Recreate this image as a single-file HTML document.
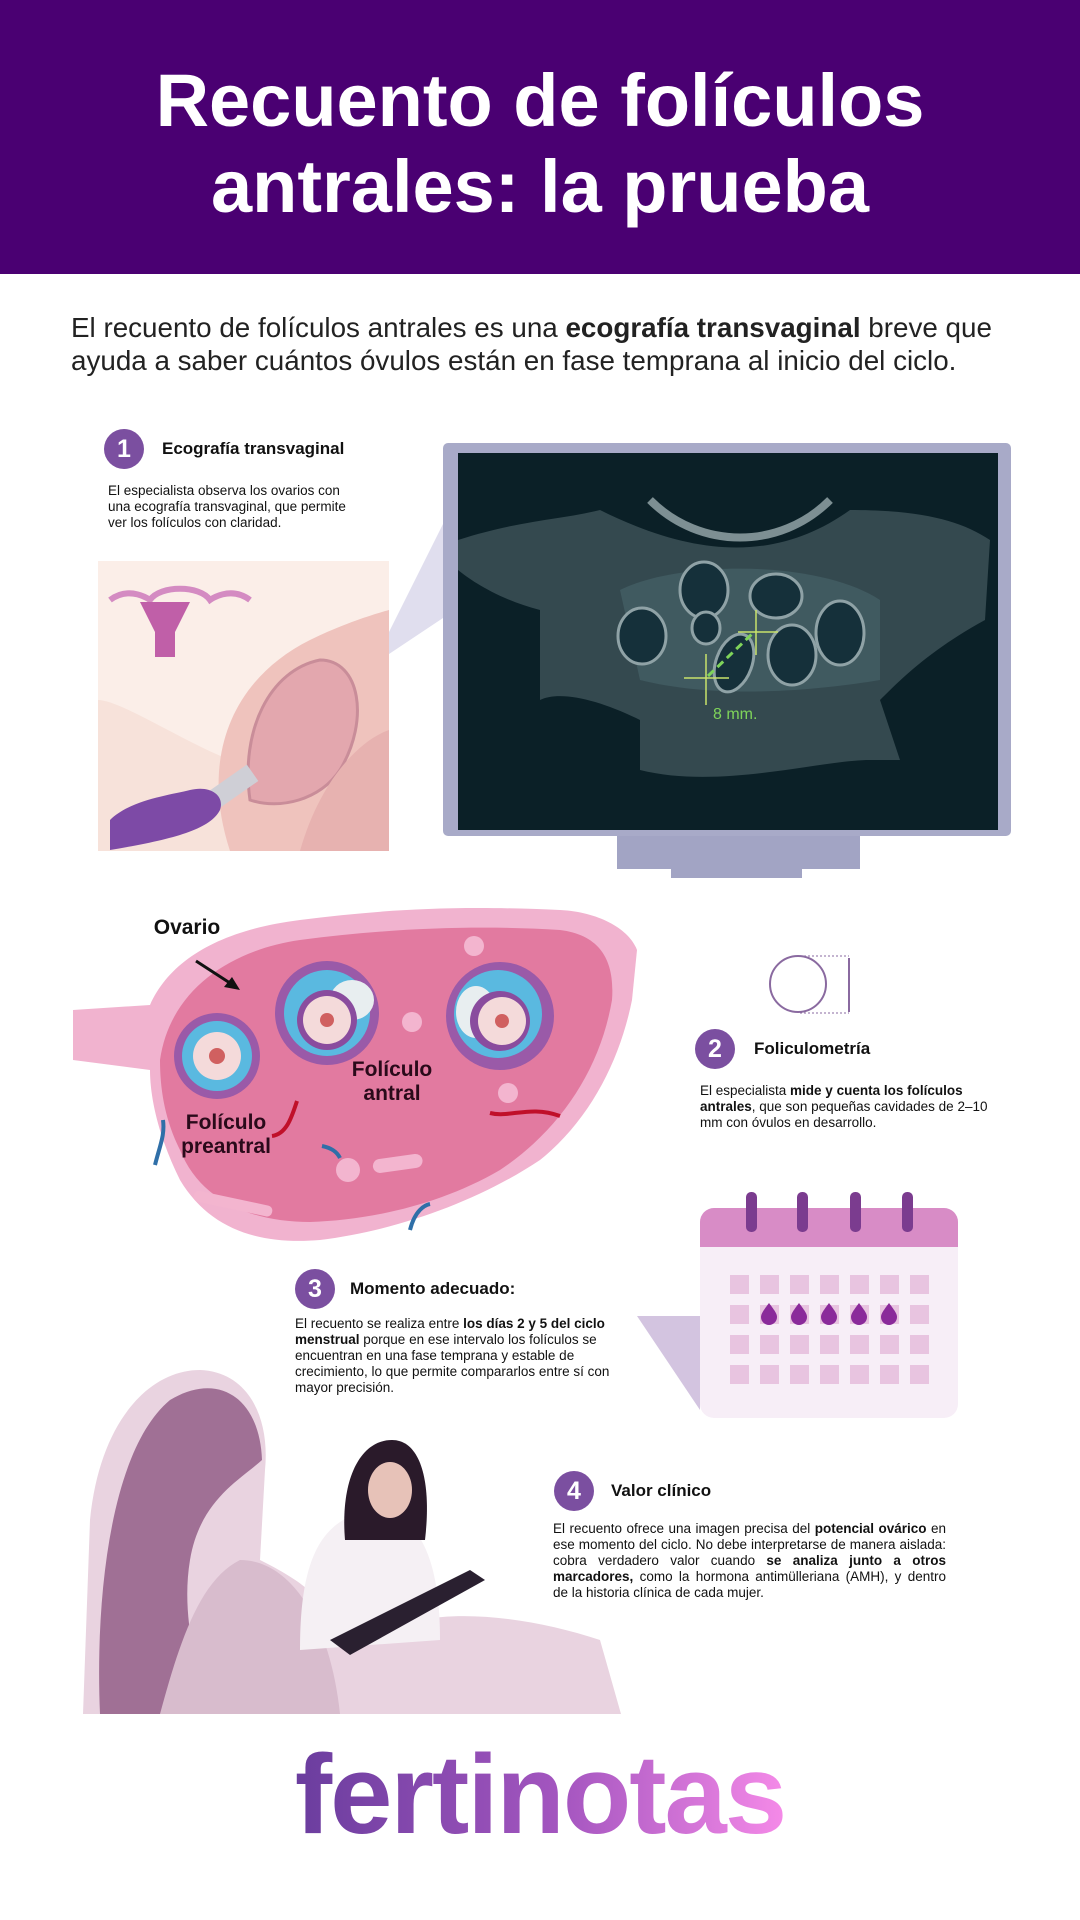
<!DOCTYPE html>
<html><head><meta charset="utf-8"><style>
*{margin:0;padding:0;box-sizing:border-box}
body{width:1080px;height:1920px;position:relative;background:#fff;font-family:"Liberation Sans",sans-serif;color:#111;overflow:hidden}
.abs{position:absolute}
.num{position:absolute;width:40px;height:40px;border-radius:50%;background:#7b4fa0;color:#fff;font-size:25px;font-weight:bold;text-align:center;line-height:40px}
.ttl{position:absolute;font-size:17px;font-weight:bold}
.p{position:absolute;font-size:13.5px;line-height:16px}
</style></head><body>
<div class="abs" style="left:0;top:0;width:1080px;height:274px;background:#4a0072"></div>
<div class="abs" style="left:0;top:58px;width:1080px;text-align:center;color:#fff;font-weight:bold;font-size:74px;line-height:86px">Recuento de folículos<br>antrales: la prueba</div>
<div class="abs" style="left:71px;top:311px;font-size:27.8px;line-height:33px;color:#222;white-space:nowrap">El recuento de folículos antrales es una <b>ecografía transvaginal</b> breve que<br>ayuda a saber cuántos óvulos están en fase temprana al inicio del ciclo.</div>

<svg class="abs" style="left:0;top:0" width="1080" height="1920">
<defs><linearGradient id="lg" x1="0" x2="1"><stop offset="0" stop-color="#6a3d9e"/><stop offset="0.55" stop-color="#a556c0"/><stop offset="1" stop-color="#f58ae8"/></linearGradient></defs>
<polygon points="230,760 380,650 470,470 470,600" fill="#d8d6ea" opacity="0.8"/>
<rect x="98" y="561" width="291" height="290" fill="#f7e2da"/>
<path d="M98,561 H389 V640 C330,650 260,720 230,760 C180,740 120,700 98,700Z" fill="#fbeee8"/>
<path d="M230,851 C200,760 230,680 310,640 C350,620 389,610 389,610 V851Z" fill="#efc3bd"/>
<path d="M250,800 C240,730 270,670 320,660 C360,660 370,720 340,770 C320,800 280,810 250,800Z" fill="#e3a7ae" stroke="#c98d99" stroke-width="3"/>
<path d="M300,851 C320,780 360,740 389,730 V851Z" fill="#e7b2b0"/>
<path d="M110,600 c20,-15 40,0 40,0 c10,-15 50,-15 60,0 c0,0 20,-15 40,0" stroke="#d48bc2" stroke-width="6" fill="none"/>
<path d="M140,602 h50 l-15,30 v25 h-20 v-25z" fill="#c05fa8"/>
<rect x="218" y="760" width="20" height="60" fill="#cfcfd6" transform="rotate(55 228 790)"/>
<path d="M110,820 c20,-20 60,-25 80,-30 c20,-5 35,5 30,20 c-10,20 -50,30 -110,40z" fill="#7d4aa6"/>
<rect x="443" y="443" width="568" height="393" rx="5" fill="#a8aac8"/>
<rect x="617" y="836" width="243" height="33" fill="#a2a4c4"/>
<rect x="671" y="869" width="131" height="9" fill="#a2a4c4"/>
<rect x="458" y="453" width="540" height="377" fill="#0b2027"/>
<path d="M458,540 C520,520 560,520 600,510 C700,560 780,560 850,510 C920,510 960,520 990,540 L985,620 C930,650 900,680 880,700 L900,760 L870,760 C820,760 720,790 640,770 L640,720 C600,700 560,690 540,700 L540,610 C500,600 470,580 458,570Z" fill="#34494f"/>
<path d="M620,590 C680,560 820,560 880,600 L880,680 C820,690 720,700 640,680Z" fill="#405a60"/>
<path d="M650,500 C700,550 780,550 830,500" stroke="#7d8f93" stroke-width="8" fill="none"/>
<g fill="#15303a" stroke="#8fa2a6" stroke-width="3">
<ellipse cx="704" cy="590" rx="24" ry="28"/><ellipse cx="776" cy="596" rx="26" ry="22"/><ellipse cx="642" cy="636" rx="24" ry="28"/><ellipse cx="706" cy="628" rx="14" ry="16"/><ellipse cx="840" cy="633" rx="24" ry="32"/><ellipse cx="792" cy="655" rx="24" ry="30"/><ellipse cx="734" cy="663" rx="18" ry="30" transform="rotate(20 734 663)"/></g>
<g stroke="#c8e26a" stroke-width="1.5"><line x1="684" y1="678" x2="729" y2="678"/><line x1="706" y1="654" x2="706" y2="705"/><line x1="738" y1="632" x2="778" y2="632"/><line x1="756" y1="610" x2="756" y2="655"/></g>
<line x1="708" y1="676" x2="752" y2="634" stroke="#7fd45a" stroke-width="3" stroke-dasharray="8 5"/>
<text x="713" y="719" font-size="16" fill="#7fd45a" font-family="Liberation Sans">8 mm.</text>
<path d="M73,1010 L150,1005 C170,960 220,930 300,920 C380,910 450,905 560,910 C600,912 630,930 637,950 L632,1000 C620,1060 590,1120 540,1160 C480,1200 400,1230 320,1240 C260,1245 210,1230 180,1180 C160,1140 150,1100 150,1070 L73,1060Z" fill="#f1b3cf"/>
<path d="M160,1060 C170,990 230,950 300,940 C390,928 480,925 560,930 C600,935 615,960 612,1000 C600,1070 560,1130 500,1170 C440,1205 370,1220 310,1222 C250,1222 200,1200 180,1150 C165,1120 160,1090 160,1060Z" fill="#e27aa0"/>
<g fill="#f3b5cf"><circle cx="474" cy="946" r="10"/><circle cx="412" cy="1022" r="10"/><circle cx="348" cy="1170" r="12"/><rect x="372" y="1160" width="50" height="14" rx="7" transform="rotate(-8 372 1160)"/><rect x="195" y="1190" width="80" height="11" rx="5" transform="rotate(12 195 1190)"/><circle cx="508" cy="1093" r="10"/></g>
<g fill="none" stroke-width="4"><path d="M155,1165 c5,-20 10,-30 8,-45" stroke="#2f6fa8"/><path d="M322,1146 c10,2 15,6 18,12" stroke="#2f6fa8"/><path d="M410,1230 c5,-20 15,-25 20,-26" stroke="#2f6fa8"/><path d="M272,1136 c15,-2 20,-20 25,-35" stroke="#c0102a"/><path d="M490,1113 c20,5 40,-8 70,3" stroke="#c0102a"/></g>
<g><circle cx="217" cy="1056" r="43" fill="#9a5aa8"/><circle cx="217" cy="1056" r="35" fill="#5ab9e0"/><circle cx="217" cy="1056" r="24" fill="#f4dada"/><circle cx="217" cy="1056" r="8" fill="#d06060"/>
<circle cx="327" cy="1013" r="52" fill="#9a5aa8"/><circle cx="327" cy="1013" r="43" fill="#5ab9e0"/><ellipse cx="352" cy="1000" rx="22" ry="20" fill="#e8eef0"/><circle cx="327" cy="1020" r="30" fill="#8a4c9e"/><circle cx="327" cy="1020" r="24" fill="#f4dada"/><circle cx="327" cy="1020" r="7" fill="#d06060"/>
<circle cx="500" cy="1016" r="54" fill="#9a5aa8"/><circle cx="498" cy="1014" r="44" fill="#5ab9e0"/><ellipse cx="476" cy="1012" rx="20" ry="26" fill="#e8eef0"/><circle cx="500" cy="1021" r="30" fill="#8a4c9e"/><circle cx="502" cy="1021" r="24" fill="#f4dada"/><circle cx="502" cy="1021" r="7" fill="#d06060"/></g>
<line x1="196" y1="961" x2="233" y2="985" stroke="#111" stroke-width="3"/><polygon points="240,990 224,987 232,977" fill="#111"/>
<g font-family="Liberation Sans" font-weight="bold" font-size="21" fill="#2a0a1a" text-anchor="middle"><text x="187" y="934" fill="#111">Ovario</text><text x="392" y="1076">Folículo</text><text x="392" y="1100">antral</text><text x="226" y="1129">Folículo</text><text x="226" y="1153">preantral</text></g>
<circle cx="798" cy="984" r="28" fill="none" stroke="#8a6aa0" stroke-width="2"/>
<line x1="849" y1="958" x2="849" y2="1012" stroke="#8a6aa0" stroke-width="2"/>
<line x1="800" y1="956" x2="849" y2="956" stroke="#8a6aa0" stroke-dasharray="2 2"/><line x1="800" y1="1013" x2="849" y2="1013" stroke="#8a6aa0" stroke-dasharray="2 2"/>
<polygon points="637,1316 700,1316 700,1410" fill="#d3c4e0"/>
<rect x="700" y="1208" width="258" height="210" rx="14" fill="#f7eef7"/>
<path d="M700,1247 V1222 a14,14 0 0 1 14,-14 H944 a14,14 0 0 1 14,14 V1247Z" fill="#d88cc6"/>
<g fill="#7b3c8f"><rect x="746" y="1192" width="11" height="40" rx="5"/><rect x="797" y="1192" width="11" height="40" rx="5"/><rect x="850" y="1192" width="11" height="40" rx="5"/><rect x="902" y="1192" width="11" height="40" rx="5"/></g>
<g fill="#e8c4e0">
<rect x="730" y="1275" width="19" height="19"/><rect x="760" y="1275" width="19" height="19"/><rect x="790" y="1275" width="19" height="19"/><rect x="820" y="1275" width="19" height="19"/><rect x="850" y="1275" width="19" height="19"/><rect x="880" y="1275" width="19" height="19"/><rect x="910" y="1275" width="19" height="19"/>
<rect x="730" y="1305" width="19" height="19"/><rect x="760" y="1305" width="19" height="19"/><rect x="790" y="1305" width="19" height="19"/><rect x="820" y="1305" width="19" height="19"/><rect x="850" y="1305" width="19" height="19"/><rect x="880" y="1305" width="19" height="19"/><rect x="910" y="1305" width="19" height="19"/>
<rect x="730" y="1335" width="19" height="19"/><rect x="760" y="1335" width="19" height="19"/><rect x="790" y="1335" width="19" height="19"/><rect x="820" y="1335" width="19" height="19"/><rect x="850" y="1335" width="19" height="19"/><rect x="880" y="1335" width="19" height="19"/><rect x="910" y="1335" width="19" height="19"/>
<rect x="730" y="1365" width="19" height="19"/><rect x="760" y="1365" width="19" height="19"/><rect x="790" y="1365" width="19" height="19"/><rect x="820" y="1365" width="19" height="19"/><rect x="850" y="1365" width="19" height="19"/><rect x="880" y="1365" width="19" height="19"/><rect x="910" y="1365" width="19" height="19"/></g>
<g fill="#8a2a9a"><path d="M769,1303 c-6,8 -8,11 -8,14 a8,8 0 0 0 16,0 c0,-3 -2,-6 -8,-14z"/><path d="M799,1303 c-6,8 -8,11 -8,14 a8,8 0 0 0 16,0 c0,-3 -2,-6 -8,-14z"/><path d="M829,1303 c-6,8 -8,11 -8,14 a8,8 0 0 0 16,0 c0,-3 -2,-6 -8,-14z"/><path d="M859,1303 c-6,8 -8,11 -8,14 a8,8 0 0 0 16,0 c0,-3 -2,-6 -8,-14z"/><path d="M889,1303 c-6,8 -8,11 -8,14 a8,8 0 0 0 16,0 c0,-3 -2,-6 -8,-14z"/></g>
<path d="M83,1714 L90,1520 C100,1420 150,1370 200,1370 C250,1372 270,1420 265,1470 L260,1560 C300,1580 330,1600 340,1640 L420,1620 C470,1610 540,1620 600,1640 L621,1714Z" fill="#e9d3e0"/>
<path d="M100,1714 C95,1600 110,1450 170,1400 C220,1370 260,1400 262,1460 C240,1480 200,1500 190,1560 C180,1620 200,1680 210,1714Z" fill="#a07095"/>
<path d="M160,1714 C180,1640 200,1580 240,1560 C290,1560 330,1620 340,1714Z" fill="#d8bccd"/>
<path d="M300,1650 C300,1560 320,1520 370,1510 C420,1510 440,1560 440,1640Z" fill="#f5f0f4"/>
<path d="M345,1540 C340,1480 360,1440 392,1440 C420,1440 432,1480 425,1540Z" fill="#2a1a2a"/>
<ellipse cx="390" cy="1490" rx="22" ry="28" fill="#e7c2b8"/>
<polygon points="330,1640 470,1570 485,1580 350,1655" fill="#2a2030"/>
</svg>

<div class="num" style="left:104px;top:429px">1</div>
<div class="ttl" style="left:162px;top:439px">Ecografía transvaginal</div>
<div class="p" style="left:108px;top:483px;width:290px">El especialista observa los ovarios con<br>una ecografía transvaginal, que permite<br>ver los folículos con claridad.</div>

<div class="num" style="left:695px;top:1029px">2</div>
<div class="ttl" style="left:754px;top:1039px">Foliculometría</div>
<div class="p" style="left:700px;top:1083px;width:290px">El especialista <b>mide y cuenta los folículos antrales</b>, que son pequeñas cavidades de 2–10 mm con óvulos en desarrollo.</div>

<div class="num" style="left:295px;top:1269px">3</div>
<div class="ttl" style="left:350px;top:1279px">Momento adecuado:</div>
<div class="p" style="left:295px;top:1316px;width:350px">El recuento se realiza entre <b>los días 2 y 5 del ciclo menstrual</b> porque en ese intervalo los folículos se encuentran en una fase temprana y estable de crecimiento, lo que permite compararlos entre sí con mayor precisión.</div>

<div class="num" style="left:554px;top:1471px">4</div>
<div class="ttl" style="left:611px;top:1481px">Valor clínico</div>
<div class="p" style="left:553px;top:1521px;width:393px;text-align:justify">El recuento ofrece una imagen precisa del <b>potencial ovárico</b> en ese momento del ciclo. No debe interpretarse de manera aislada: cobra verdadero valor cuando <b>se analiza junto a otros marcadores,</b> como la hormona antimülleriana (AMH), y dentro de la historia clínica de cada mujer.</div>

<svg class="abs" style="left:0;top:1730px" width="1080" height="140"><text x="540" y="103" text-anchor="middle" font-family="Liberation Sans" font-weight="bold" font-size="112" fill="url(#lg)" letter-spacing="-2">fertinotas</text></svg>
</body></html>
